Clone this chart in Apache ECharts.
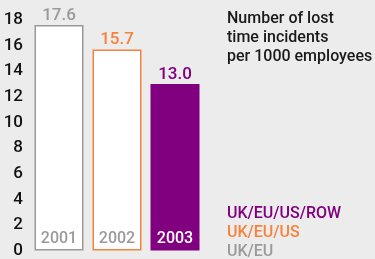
<!DOCTYPE html>
<html><head><meta charset="utf-8">
<script src="https://cdn.jsdelivr.net/npm/echarts@6/dist/echarts.min.js"></script>
<style>html,body{margin:0;padding:0;background:#ececec}#c{width:375px;height:259px}</style>
</head><body><div id="c"></div>
<script>
const categories = ['2001', '2002', '2003'];
const values = [17.6, 15.7, 13.0];
const barColors = ['#9a9a9a', '#f7823c', '#800080'];
const yearLabelColors = ['#9a9a9a', '#9a9a9a', '#ffffff'];
const legendNames = ['UK/EU/US/ROW', 'UK/EU/US', 'UK/EU'];
const legendColors = ['#800080', '#f7823c', '#9a9a9a'];
const titleText = 'Number of lost\ntime incidents\nper 1000 employees';

const FONT = 'Roboto';
const chart = echarts.init(document.getElementById('c'));
chart.setOption({
  backgroundColor: '#ececec',
  animation: false,
  title: [
    { text: titleText, left: 222, top: 4, padding: 5, textStyle: { fontFamily: FONT, fontSize: 16, fontWeight: 500, color: '#1a1a1a', lineHeight: 19 } }
  ].concat(legendNames.map((n, i) => ({
    text: n, left: 222, top: 199 + i * 19, padding: 5,
    textStyle: { fontFamily: FONT, fontSize: 16, fontWeight: 500, color: legendColors[i], lineHeight: 19 }
  }))),
  grid: { left: 30, right: 171, top: 20, bottom: 2.5, containLabel: false },
  xAxis: {
    type: 'category', data: categories,
    axisLine: { show: false }, axisTick: { show: false },
    axisLabel: {
      inside: true, margin: 4, fontFamily: FONT, fontSize: 16, fontWeight: 500,
      color: (v, i) => yearLabelColors[categories.indexOf(v)]
    },
    z: 10
  },
  yAxis: {
    type: 'value', min: 0, max: 18, interval: 2,
    axisLine: { show: false }, axisTick: { show: false }, splitLine: { show: false },
    axisLabel: { margin: 7, fontFamily: FONT, fontSize: 17, fontWeight: 500, color: '#111' }
  },
  series: [{
    type: 'bar', barWidth: 49,
    data: values.map((v, i) => ({
      value: v,
      itemStyle: i === 2 ? { color: barColors[i] } : { color: '#ffffff', borderColor: barColors[i], borderWidth: 1.5 },
      label: { color: barColors[i] }
    })),
    label: {
      show: true, position: 'top', distance: 1, fontFamily: FONT, fontSize: 17, fontWeight: 500,
      formatter: p => p.value.toFixed(1)
    }
  }]
});
</script></body></html>
